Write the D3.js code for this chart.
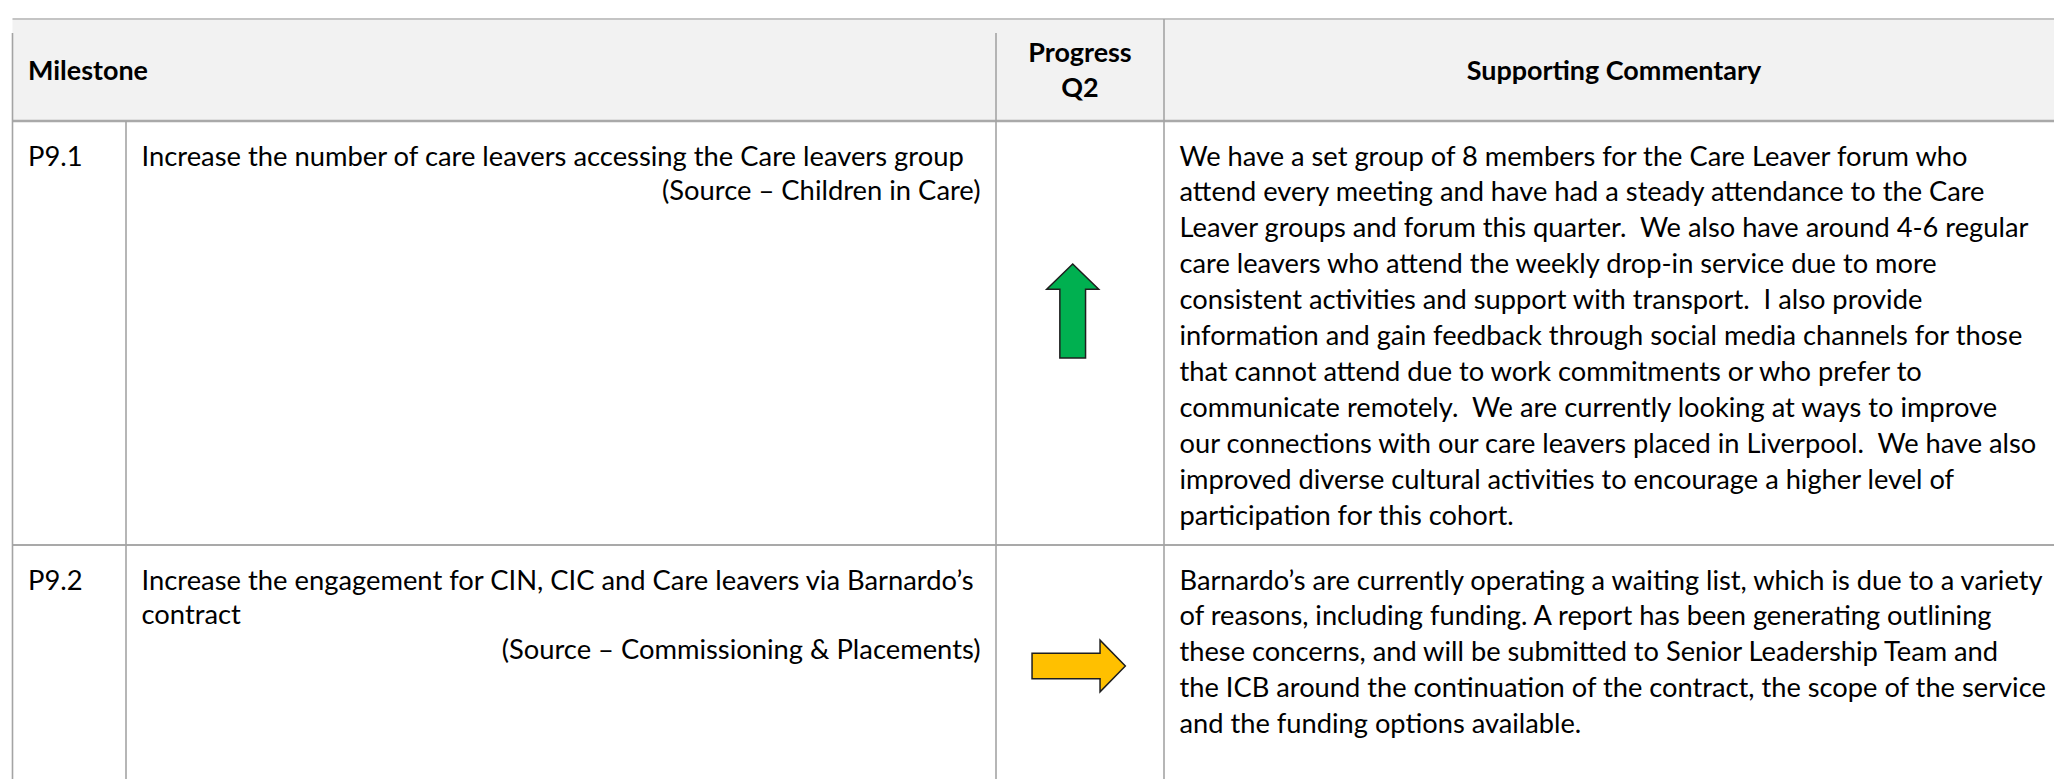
<!DOCTYPE html>
<html>
<head>
<meta charset="utf-8">
<script src="https://cdn.jsdelivr.net/npm/d3@7/dist/d3.min.js"></script>
<style>
  html, body { margin: 0; padding: 0; background: #ffffff; }
  svg { display: block; }
  text { font-family: Lato, "Open Sans", sans-serif; fill: #000; white-space: pre; }
</style>
</head>
<body>
<script>
// ---------------- DATA ----------------
const headerLabels = ["Milestone", "Progress", "Q2", "Supporting Commentary"];
const ids = ["P9.1", "P9.2"];
const milestoneLines = [
  ["Increase the number of care leavers accessing the Care leavers group"],
  ["Increase the engagement for CIN, CIC and Care leavers via Barnardo\u2019s", "contract"]
];
const sources = [
  "(Source \u2013 Children in Care)",
  "(Source \u2013 Commissioning & Placements)"
];
const progress = ["up", "right"];
const commentary = [
  [
    "We have a set group of 8 members for the Care Leaver forum who",
    "attend every meeting and have had a steady attendance to the Care",
    "Leaver groups and forum this quarter.  We also have around 4-6 regular",
    "care leavers who attend the weekly drop-in service due to more",
    "consistent activities and support with transport.  I also provide",
    "information and gain feedback through social media channels for those",
    "that cannot attend due to work commitments or who prefer to",
    "communicate remotely.  We are currently looking at ways to improve",
    "our connections with our care leavers placed in Liverpool.  We have also",
    "improved diverse cultural activities to encourage a higher level of",
    "participation for this cohort."
  ],
  [
    "Barnardo\u2019s are currently operating a waiting list, which is due to a variety",
    "of reasons, including funding. A report has been generating outlining",
    "these concerns, and will be submitted to Senior Leadership Team and",
    "the ICB around the continuation of the contract, the scope of the service",
    "and the funding options available."
  ]
];

// ---------------- LAYOUT ----------------
const W = 2054, H = 779;
const colKeys = ["left", "id", "milestone", "progress", "commentary", "right"];
const colEdges = [12.5, 126, 996, 1164, 2064, 2064];
const x = d3.scaleOrdinal().domain(colKeys).range(colEdges);
const tableTop = 19, headerBottom = 121;
const rowTops = [121, 545];
const rowBottoms = [545, 830];
const y = d3.scaleOrdinal().domain([0, 1]).range(rowTops);
const padL = 15.5, padR = 15.5;
const firstBaseline = 44.5;        // from row top
const msLineH = 34.5, comLineH = 35.9;
const fsMs = 26.4, fsCom = 26.3, fsHead = 26;
const targetFirstComWidth = 788;
const arrowColor = { up: "#00b050", right: "#ffc000" };
const arrowCenter = [{ dx: -7.3, dy: 190 }, { dx: -1.3, dy: 121 }];

const svg = d3.select("body").append("svg").attr("width", W).attr("height", H);

// compression factor to imitate Calibri widths with Lato
const probe = svg.append("text").attr("font-size", fsCom).text(commentary[0][0]);
const k = targetFirstComWidth / probe.node().getComputedTextLength();
probe.remove();
function fit(sel) {
  sel.each(function () {
    const w = this.getComputedTextLength();
    if (w > 0) d3.select(this).attr("textLength", w * k).attr("lengthAdjust", "spacingAndGlyphs");
  });
}

// header background
svg.append("rect")
  .attr("x", x("left")).attr("y", tableTop)
  .attr("width", x("right") - x("left")).attr("height", headerBottom - tableTop)
  .attr("fill", "#f2f2f2");

// borders
const g = svg.append("g").attr("fill", "none");
g.append("line").attr("x1", x("left")).attr("x2", x("right")).attr("y1", tableTop).attr("y2", tableTop)
  .attr("stroke", "#c4c4c4").attr("stroke-width", 2);
g.append("line").attr("x1", x("left")).attr("x2", x("right")).attr("y1", headerBottom).attr("y2", headerBottom)
  .attr("stroke", "#a9a9a9").attr("stroke-width", 2.5);
g.append("line").attr("x1", x("left")).attr("x2", x("right")).attr("y1", rowBottoms[0]).attr("y2", rowBottoms[0])
  .attr("stroke", "#a9a9a9").attr("stroke-width", 2.2);
const vlines = [
  { x: x("left"), y1: 33 },
  { x: x("id"), y1: headerBottom },
  { x: x("milestone"), y1: 33 },
  { x: x("progress"), y1: tableTop }
];
g.selectAll("line.v").data(vlines).join("line").attr("class", "v")
  .attr("x1", d => d.x).attr("x2", d => d.x).attr("y1", d => d.y1).attr("y2", H + 20)
  .attr("stroke", "#a4a4a4").attr("stroke-width", 1.6);

// header text
const head = svg.append("g").attr("font-weight", "bold").attr("font-size", fsHead);
const progCenter = (x("progress") + x("milestone")) / 2;
const comCenter = (x("commentary") + x("progress")) / 2;
const headPos = [
  { x: x("left") + padL, y: 80, anchor: "start" },
  { x: progCenter, y: 61.7, anchor: "middle" },
  { x: progCenter, y: 97.3, anchor: "middle" },
  { x: comCenter, y: 80, anchor: "middle" }
];
head.selectAll("text").data(headerLabels).join("text")
  .attr("x", (d, i) => headPos[i].x).attr("y", (d, i) => headPos[i].y)
  .attr("text-anchor", (d, i) => headPos[i].anchor)
  .text(d => d)
  .call(fit);

// rows
ids.forEach((id, r) => {
  const top = y(r);
  const row = svg.append("g");
  row.append("text").attr("font-size", fsMs)
    .attr("x", x("left") + padL).attr("y", top + firstBaseline).text(id).call(fit);
  row.selectAll("text.ms").data(milestoneLines[r]).join("text").attr("class", "ms")
    .attr("font-size", fsMs)
    .attr("x", x("id") + padL)
    .attr("y", (d, i) => top + firstBaseline + i * msLineH)
    .text(d => d).call(fit);
  row.append("text").attr("font-size", fsMs)
    .attr("text-anchor", "end")
    .attr("x", x("milestone") - padR)
    .attr("y", top + firstBaseline + milestoneLines[r].length * msLineH)
    .text(sources[r]).call(fit);
  row.selectAll("text.com").data(commentary[r]).join("text").attr("class", "com")
    .attr("font-size", fsCom)
    .attr("x", x("progress") + padL)
    .attr("y", (d, i) => top + firstBaseline + i * comLineH)
    .text(d => d).call(fit);

  // progress arrow
  const cx = progCenter + arrowCenter[r].dx, cy = top + arrowCenter[r].dy;
  let pts;
  if (progress[r] === "up") {
    const len = 94, headW = 52, shaftW = 25.7, headH = 25.3;
    pts = [
      [cx, cy - len / 2], [cx + headW / 2, cy - len / 2 + headH], [cx + shaftW / 2, cy - len / 2 + headH],
      [cx + shaftW / 2, cy + len / 2], [cx - shaftW / 2, cy + len / 2], [cx - shaftW / 2, cy - len / 2 + headH],
      [cx - headW / 2, cy - len / 2 + headH]
    ];
  } else {
    const len = 93.3, headW = 51.7, shaftW = 25.7, headH = 25.3;
    pts = [
      [cx + len / 2, cy], [cx + len / 2 - headH, cy + headW / 2], [cx + len / 2 - headH, cy + shaftW / 2],
      [cx - len / 2, cy + shaftW / 2], [cx - len / 2, cy - shaftW / 2], [cx + len / 2 - headH, cy - shaftW / 2],
      [cx + len / 2 - headH, cy - headW / 2]
    ];
  }
  row.append("path")
    .attr("d", d3.line()(pts) + "Z")
    .attr("fill", arrowColor[progress[r]])
    .attr("stroke", "#1e1e1e").attr("stroke-width", 1.5)
    .attr("stroke-linejoin", "miter");
});
</script>
</body>
</html>
